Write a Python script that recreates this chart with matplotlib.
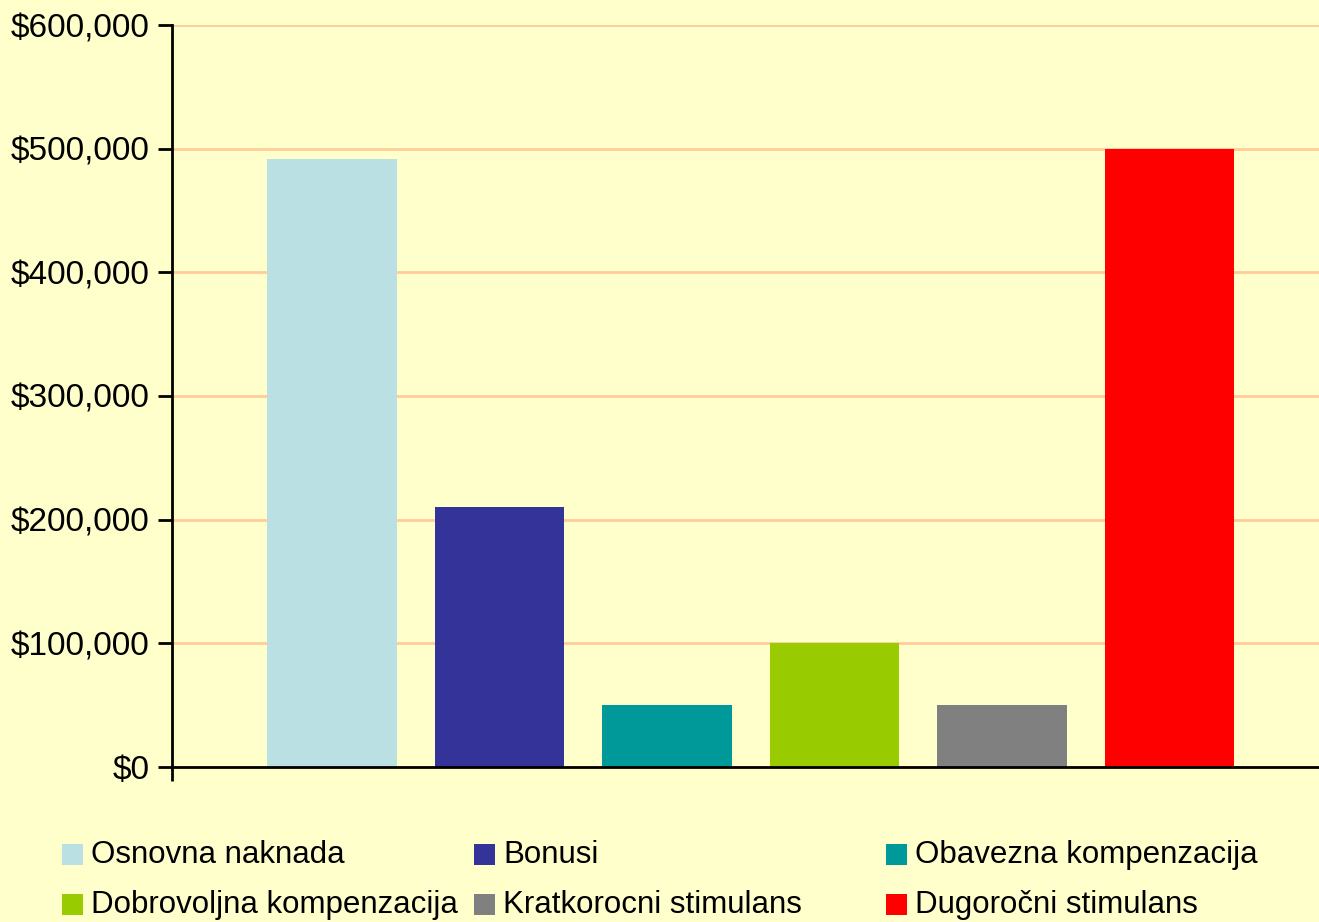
import matplotlib
matplotlib.use("Agg")
from matplotlib import pyplot as plt
from matplotlib.patches import Rectangle
from matplotlib.ticker import FuncFormatter

# Data
series = ["Osnovna naknada", "Bonusi", "Obavezna kompenzacija",
          "Dobrovoljna kompenzacija", "Kratkorocni stimulans", "Dugoročni stimulans"]
values = [492000, 210000, 50000, 100000, 50000, 500000]
colors = ["#BBE0E3", "#333399", "#009999", "#99CC00", "#808080", "#FF0000"]
yticks = [0, 100000, 200000, 300000, 400000, 500000, 600000]

bg = "#FFFFCC"
plt.rcParams["font.family"] = ["Liberation Sans", "DejaVu Sans"]

W, H = 1319, 922
fig = plt.figure(figsize=(W / 100, H / 100), dpi=100, facecolor=bg)
ax = fig.add_axes([172 / W, 1 - 767 / H, (W - 172) / W, (767 - 25) / H])
ax.set_facecolor(bg)

x = list(range(len(values)))
ax.bar(x, values, width=0.776, color=colors, zorder=3)

xl = (172 - 332) / 167.5
xr = (W - 332) / 167.5
ax.set_xlim(xl, xr)
ax.set_ylim(0, 600000)

ax.set_yticks(yticks)
ax.yaxis.set_major_formatter(FuncFormatter(lambda v, p: "${:,.0f}".format(v)))
ax.set_xticks([xl])
ax.set_xticklabels([""])
ax.tick_params(axis="both", direction="out", length=10, width=2, color="black",
               labelsize=24, pad=6)
ax.grid(axis="y", color="#FFCC99", linewidth=2, zorder=0)

for s in ["top", "right"]:
    ax.spines[s].set_visible(False)
for s in ["left", "bottom"]:
    ax.spines[s].set_linewidth(2)
    ax.spines[s].set_zorder(4)

# Legend, 3 columns in rows like the original
for i, (name, c) in enumerate(zip(series, colors)):
    col, row = i % 3, i // 3
    px = 62 + col * 412
    py = 854 + row * 50
    fig.patches.append(Rectangle((px / W, 1 - (py + 10.5) / H), 21 / W, 21 / H,
                                 transform=fig.transFigure, facecolor=c,
                                 edgecolor="none"))
    fig.text((px + 29) / W, 1 - (py + 1) / H, name, fontsize=22.5, va="center",
             ha="left", color="black")

fig.savefig("out.png", dpi=100, facecolor=bg)
